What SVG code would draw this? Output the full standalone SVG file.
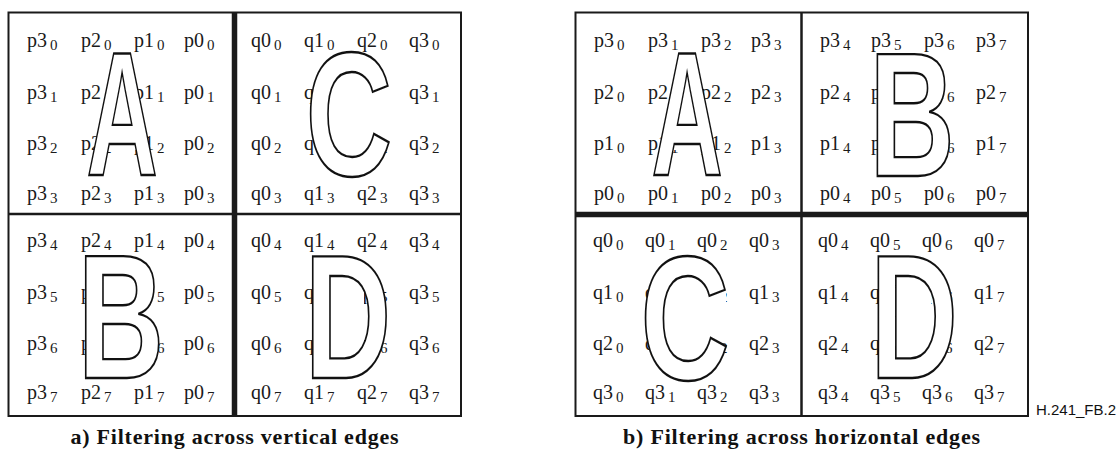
<svg xmlns="http://www.w3.org/2000/svg" width="1119" height="452" viewBox="0 0 1119 452">
<style>
.frame{fill:none;stroke:#1a1a1a;stroke-width:2}
.thin{stroke:#1a1a1a;stroke-width:2.5}
.thick{stroke:#1a1a1a;stroke-width:5.5}
.lbl{font-family:"Liberation Serif","Times New Roman",serif;font-size:20px;fill:#1a1a1a}
.s{font-size:15px}
.big{font-family:"Liberation Sans",Arial,sans-serif;font-weight:bold;font-size:176px;fill:#fff;stroke:#111;stroke-width:2.4;text-anchor:middle}
.ko{fill:#fff;stroke:none}
.cap{font-family:"Liberation Serif","Times New Roman",serif;font-weight:bold;font-size:22px;fill:#111;text-anchor:middle}
.tag{font-family:"Liberation Sans",Arial,sans-serif;font-size:15px;fill:#111}
</style>
<rect width="1119" height="452" fill="#fff"/>

<g id="diagram-a">
  <g id="a-TL">
    <text class="lbl" x="27" y="47">p3<tspan class="s" dx="3" dy="3">0</tspan></text>
    <text class="lbl" x="81" y="47">p2<tspan class="s" dx="3" dy="3">0</tspan></text>
    <text class="lbl" x="134" y="47">p1<tspan class="s" dx="3" dy="3">0</tspan></text>
    <text class="lbl" x="184" y="47">p0<tspan class="s" dx="3" dy="3">0</tspan></text>
    <text class="lbl" x="27" y="99">p3<tspan class="s" dx="3" dy="3">1</tspan></text>
    <text class="lbl" x="81" y="99">p2<tspan class="s" dx="3" dy="3">1</tspan></text>
    <text class="lbl" x="134" y="99">p1<tspan class="s" dx="3" dy="3">1</tspan></text>
    <text class="lbl" x="184" y="99">p0<tspan class="s" dx="3" dy="3">1</tspan></text>
    <text class="lbl" x="27" y="150">p3<tspan class="s" dx="3" dy="3">2</tspan></text>
    <text class="lbl" x="81" y="150">p2<tspan class="s" dx="3" dy="3">2</tspan></text>
    <text class="lbl" x="134" y="150">p1<tspan class="s" dx="3" dy="3">2</tspan></text>
    <text class="lbl" x="184" y="150">p0<tspan class="s" dx="3" dy="3">2</tspan></text>
    <text class="lbl" x="27" y="200">p3<tspan class="s" dx="3" dy="3">3</tspan></text>
    <text class="lbl" x="81" y="200">p2<tspan class="s" dx="3" dy="3">3</tspan></text>
    <text class="lbl" x="134" y="200">p1<tspan class="s" dx="3" dy="3">3</tspan></text>
    <text class="lbl" x="184" y="200">p0<tspan class="s" dx="3" dy="3">3</tspan></text>
    <polygon class="ko" points="122,62 143,150 101,150"/>
    <text class="big" transform="translate(122,175) scale(0.56,1)">A</text>
  </g>
  <g id="a-TR">
    <text class="lbl" x="251" y="47">q0<tspan class="s" dx="3" dy="3">0</tspan></text>
    <text class="lbl" x="304" y="47">q1<tspan class="s" dx="3" dy="3">0</tspan></text>
    <text class="lbl" x="357" y="47">q2<tspan class="s" dx="3" dy="3">0</tspan></text>
    <text class="lbl" x="409" y="47">q3<tspan class="s" dx="3" dy="3">0</tspan></text>
    <text class="lbl" x="251" y="99">q0<tspan class="s" dx="3" dy="3">1</tspan></text>
    <text class="lbl" x="304" y="99">q1<tspan class="s" dx="3" dy="3">1</tspan></text>
    <text class="lbl" x="357" y="99">q2<tspan class="s" dx="3" dy="3">1</tspan></text>
    <text class="lbl" x="409" y="99">q3<tspan class="s" dx="3" dy="3">1</tspan></text>
    <text class="lbl" x="251" y="150">q0<tspan class="s" dx="3" dy="3">2</tspan></text>
    <text class="lbl" x="304" y="150">q1<tspan class="s" dx="3" dy="3">2</tspan></text>
    <text class="lbl" x="357" y="150">q2<tspan class="s" dx="3" dy="3">2</tspan></text>
    <text class="lbl" x="409" y="150">q3<tspan class="s" dx="3" dy="3">2</tspan></text>
    <text class="lbl" x="251" y="200">q0<tspan class="s" dx="3" dy="3">3</tspan></text>
    <text class="lbl" x="304" y="200">q1<tspan class="s" dx="3" dy="3">3</tspan></text>
    <text class="lbl" x="357" y="200">q2<tspan class="s" dx="3" dy="3">3</tspan></text>
    <text class="lbl" x="409" y="200">q3<tspan class="s" dx="3" dy="3">3</tspan></text>
    <ellipse class="ko" cx="349" cy="112" rx="35" ry="61"/>
    <rect class="ko" x="349" y="88" width="40" height="47"/>
    <text class="big" transform="translate(349,175) scale(0.68,1)">C</text>
  </g>
  <g id="a-BL">
    <text class="lbl" x="27" y="247">p3<tspan class="s" dx="3" dy="3">4</tspan></text>
    <text class="lbl" x="81" y="247">p2<tspan class="s" dx="3" dy="3">4</tspan></text>
    <text class="lbl" x="134" y="247">p1<tspan class="s" dx="3" dy="3">4</tspan></text>
    <text class="lbl" x="184" y="247">p0<tspan class="s" dx="3" dy="3">4</tspan></text>
    <text class="lbl" x="27" y="299">p3<tspan class="s" dx="3" dy="3">5</tspan></text>
    <text class="lbl" x="81" y="299">p2<tspan class="s" dx="3" dy="3">5</tspan></text>
    <text class="lbl" x="134" y="299">p1<tspan class="s" dx="3" dy="3">5</tspan></text>
    <text class="lbl" x="184" y="299">p0<tspan class="s" dx="3" dy="3">5</tspan></text>
    <text class="lbl" x="27" y="350">p3<tspan class="s" dx="3" dy="3">6</tspan></text>
    <text class="lbl" x="81" y="350">p2<tspan class="s" dx="3" dy="3">6</tspan></text>
    <text class="lbl" x="134" y="350">p1<tspan class="s" dx="3" dy="3">6</tspan></text>
    <text class="lbl" x="184" y="350">p0<tspan class="s" dx="3" dy="3">6</tspan></text>
    <text class="lbl" x="27" y="399">p3<tspan class="s" dx="3" dy="3">7</tspan></text>
    <text class="lbl" x="81" y="399">p2<tspan class="s" dx="3" dy="3">7</tspan></text>
    <text class="lbl" x="134" y="399">p1<tspan class="s" dx="3" dy="3">7</tspan></text>
    <text class="lbl" x="184" y="399">p0<tspan class="s" dx="3" dy="3">7</tspan></text>
    <rect class="ko" x="99" y="270" width="39" height="36"/>
    <rect class="ko" x="99" y="321" width="43" height="39"/>
    <text class="big" transform="translate(121,378) scale(0.68,1)">B</text>
  </g>
  <g id="a-BR">
    <text class="lbl" x="251" y="247">q0<tspan class="s" dx="3" dy="3">4</tspan></text>
    <text class="lbl" x="304" y="247">q1<tspan class="s" dx="3" dy="3">4</tspan></text>
    <text class="lbl" x="357" y="247">q2<tspan class="s" dx="3" dy="3">4</tspan></text>
    <text class="lbl" x="409" y="247">q3<tspan class="s" dx="3" dy="3">4</tspan></text>
    <text class="lbl" x="251" y="299">q0<tspan class="s" dx="3" dy="3">5</tspan></text>
    <text class="lbl" x="304" y="299">q1<tspan class="s" dx="3" dy="3">5</tspan></text>
    <text class="lbl" x="357" y="299">q2<tspan class="s" dx="3" dy="3">5</tspan></text>
    <text class="lbl" x="409" y="299">q3<tspan class="s" dx="3" dy="3">5</tspan></text>
    <text class="lbl" x="251" y="350">q0<tspan class="s" dx="3" dy="3">6</tspan></text>
    <text class="lbl" x="304" y="350">q1<tspan class="s" dx="3" dy="3">6</tspan></text>
    <text class="lbl" x="357" y="350">q2<tspan class="s" dx="3" dy="3">6</tspan></text>
    <text class="lbl" x="409" y="350">q3<tspan class="s" dx="3" dy="3">6</tspan></text>
    <text class="lbl" x="251" y="399">q0<tspan class="s" dx="3" dy="3">7</tspan></text>
    <text class="lbl" x="304" y="399">q1<tspan class="s" dx="3" dy="3">7</tspan></text>
    <text class="lbl" x="357" y="399">q2<tspan class="s" dx="3" dy="3">7</tspan></text>
    <text class="lbl" x="409" y="399">q3<tspan class="s" dx="3" dy="3">7</tspan></text>
    <rect class="ko" x="326" y="270" width="38" height="90"/>
    <text class="big" transform="translate(348,378) scale(0.68,1)">D</text>
  </g>
  <g id="a-lines">
    <rect class="frame" x="8.5" y="12.5" width="452.5" height="403.5"/>
    <line class="thin" x1="8.5" y1="214" x2="461" y2="214"/>
    <line class="thick" x1="234.5" y1="12.5" x2="234.5" y2="416"/>
  </g>
  <text class="cap" x="234.5" y="444" textLength="328" lengthAdjust="spacing">a) Filtering across vertical edges</text>
</g>

<g id="diagram-b">
  <g id="b-TL">
    <text class="lbl" x="594" y="47">p3<tspan class="s" dx="3" dy="3">0</tspan></text>
    <text class="lbl" x="648" y="47">p3<tspan class="s" dx="3" dy="3">1</tspan></text>
    <text class="lbl" x="701" y="47">p3<tspan class="s" dx="3" dy="3">2</tspan></text>
    <text class="lbl" x="751" y="47">p3<tspan class="s" dx="3" dy="3">3</tspan></text>
    <text class="lbl" x="594" y="99">p2<tspan class="s" dx="3" dy="3">0</tspan></text>
    <text class="lbl" x="648" y="99">p2<tspan class="s" dx="3" dy="3">1</tspan></text>
    <text class="lbl" x="701" y="99">p2<tspan class="s" dx="3" dy="3">2</tspan></text>
    <text class="lbl" x="751" y="99">p2<tspan class="s" dx="3" dy="3">3</tspan></text>
    <text class="lbl" x="594" y="150">p1<tspan class="s" dx="3" dy="3">0</tspan></text>
    <text class="lbl" x="648" y="150">p1<tspan class="s" dx="3" dy="3">1</tspan></text>
    <text class="lbl" x="701" y="150">p1<tspan class="s" dx="3" dy="3">2</tspan></text>
    <text class="lbl" x="751" y="150">p1<tspan class="s" dx="3" dy="3">3</tspan></text>
    <text class="lbl" x="594" y="200">p0<tspan class="s" dx="3" dy="3">0</tspan></text>
    <text class="lbl" x="648" y="200">p0<tspan class="s" dx="3" dy="3">1</tspan></text>
    <text class="lbl" x="701" y="200">p0<tspan class="s" dx="3" dy="3">2</tspan></text>
    <text class="lbl" x="751" y="200">p0<tspan class="s" dx="3" dy="3">3</tspan></text>
    <polygon class="ko" points="687,62 708,150 666,150"/>
    <text class="big" transform="translate(687,175) scale(0.56,1)">A</text>
  </g>
  <g id="b-TR">
    <text class="lbl" x="820" y="47">p3<tspan class="s" dx="3" dy="3">4</tspan></text>
    <text class="lbl" x="871" y="47">p3<tspan class="s" dx="3" dy="3">5</tspan></text>
    <text class="lbl" x="924" y="47">p3<tspan class="s" dx="3" dy="3">6</tspan></text>
    <text class="lbl" x="976" y="47">p3<tspan class="s" dx="3" dy="3">7</tspan></text>
    <text class="lbl" x="820" y="99">p2<tspan class="s" dx="3" dy="3">4</tspan></text>
    <text class="lbl" x="871" y="99">p2<tspan class="s" dx="3" dy="3">5</tspan></text>
    <text class="lbl" x="924" y="99">p2<tspan class="s" dx="3" dy="3">6</tspan></text>
    <text class="lbl" x="976" y="99">p2<tspan class="s" dx="3" dy="3">7</tspan></text>
    <text class="lbl" x="820" y="150">p1<tspan class="s" dx="3" dy="3">4</tspan></text>
    <text class="lbl" x="871" y="150">p1<tspan class="s" dx="3" dy="3">5</tspan></text>
    <text class="lbl" x="924" y="150">p1<tspan class="s" dx="3" dy="3">6</tspan></text>
    <text class="lbl" x="976" y="150">p1<tspan class="s" dx="3" dy="3">7</tspan></text>
    <text class="lbl" x="820" y="200">p0<tspan class="s" dx="3" dy="3">4</tspan></text>
    <text class="lbl" x="871" y="200">p0<tspan class="s" dx="3" dy="3">5</tspan></text>
    <text class="lbl" x="924" y="200">p0<tspan class="s" dx="3" dy="3">6</tspan></text>
    <text class="lbl" x="976" y="200">p0<tspan class="s" dx="3" dy="3">7</tspan></text>
    <rect class="ko" x="891" y="68" width="38" height="36"/>
    <rect class="ko" x="891" y="119" width="42" height="39"/>
    <text class="big" transform="translate(912,176) scale(0.67,1)">B</text>
  </g>
  <g id="b-BL">
    <text class="lbl" x="593" y="247">q0<tspan class="s" dx="3" dy="3">0</tspan></text>
    <text class="lbl" x="645" y="247">q0<tspan class="s" dx="3" dy="3">1</tspan></text>
    <text class="lbl" x="697" y="247">q0<tspan class="s" dx="3" dy="3">2</tspan></text>
    <text class="lbl" x="749" y="247">q0<tspan class="s" dx="3" dy="3">3</tspan></text>
    <text class="lbl" x="593" y="299">q1<tspan class="s" dx="3" dy="3">0</tspan></text>
    <text class="lbl" x="645" y="299">q1<tspan class="s" dx="3" dy="3">1</tspan></text>
    <text class="lbl" x="697" y="299">q1<tspan class="s" dx="3" dy="3">2</tspan></text>
    <text class="lbl" x="749" y="299">q1<tspan class="s" dx="3" dy="3">3</tspan></text>
    <text class="lbl" x="593" y="350">q2<tspan class="s" dx="3" dy="3">0</tspan></text>
    <text class="lbl" x="645" y="350">q2<tspan class="s" dx="3" dy="3">1</tspan></text>
    <text class="lbl" x="697" y="350">q2<tspan class="s" dx="3" dy="3">2</tspan></text>
    <text class="lbl" x="749" y="350">q2<tspan class="s" dx="3" dy="3">3</tspan></text>
    <text class="lbl" x="593" y="399">q3<tspan class="s" dx="3" dy="3">0</tspan></text>
    <text class="lbl" x="645" y="399">q3<tspan class="s" dx="3" dy="3">1</tspan></text>
    <text class="lbl" x="697" y="399">q3<tspan class="s" dx="3" dy="3">2</tspan></text>
    <text class="lbl" x="749" y="399">q3<tspan class="s" dx="3" dy="3">3</tspan></text>
    <ellipse class="ko" cx="685" cy="316" rx="36" ry="61"/>
    <rect class="ko" x="685" y="292" width="41" height="47"/>
    <text class="big" transform="translate(685,379) scale(0.7,1)">C</text>
  </g>
  <g id="b-BR">
    <text class="lbl" x="818" y="247">q0<tspan class="s" dx="3" dy="3">4</tspan></text>
    <text class="lbl" x="870" y="247">q0<tspan class="s" dx="3" dy="3">5</tspan></text>
    <text class="lbl" x="922" y="247">q0<tspan class="s" dx="3" dy="3">6</tspan></text>
    <text class="lbl" x="974" y="247">q0<tspan class="s" dx="3" dy="3">7</tspan></text>
    <text class="lbl" x="818" y="299">q1<tspan class="s" dx="3" dy="3">4</tspan></text>
    <text class="lbl" x="870" y="299">q1<tspan class="s" dx="3" dy="3">5</tspan></text>
    <text class="lbl" x="922" y="299">q1<tspan class="s" dx="3" dy="3">6</tspan></text>
    <text class="lbl" x="974" y="299">q1<tspan class="s" dx="3" dy="3">7</tspan></text>
    <text class="lbl" x="818" y="350">q2<tspan class="s" dx="3" dy="3">4</tspan></text>
    <text class="lbl" x="870" y="350">q2<tspan class="s" dx="3" dy="3">5</tspan></text>
    <text class="lbl" x="922" y="350">q2<tspan class="s" dx="3" dy="3">6</tspan></text>
    <text class="lbl" x="974" y="350">q2<tspan class="s" dx="3" dy="3">7</tspan></text>
    <text class="lbl" x="818" y="399">q3<tspan class="s" dx="3" dy="3">4</tspan></text>
    <text class="lbl" x="870" y="399">q3<tspan class="s" dx="3" dy="3">5</tspan></text>
    <text class="lbl" x="922" y="399">q3<tspan class="s" dx="3" dy="3">6</tspan></text>
    <text class="lbl" x="974" y="399">q3<tspan class="s" dx="3" dy="3">7</tspan></text>
    <rect class="ko" x="892" y="270" width="39" height="90"/>
    <text class="big" transform="translate(914,378) scale(0.69,1)">D</text>
  </g>
  <g id="b-lines">
    <rect class="frame" x="575.5" y="12.5" width="452.5" height="403.5"/>
    <line class="thin" x1="801.5" y1="12.5" x2="801.5" y2="416"/>
    <line class="thick" x1="575.5" y1="214.5" x2="1028" y2="214.5"/>
  </g>
  <text class="cap" x="801.5" y="444" textLength="357" lengthAdjust="spacing">b) Filtering across horizontal edges</text>
</g>

<text id="figure-tag" class="tag" x="1036" y="415">H.241_FB.2</text>
</svg>
